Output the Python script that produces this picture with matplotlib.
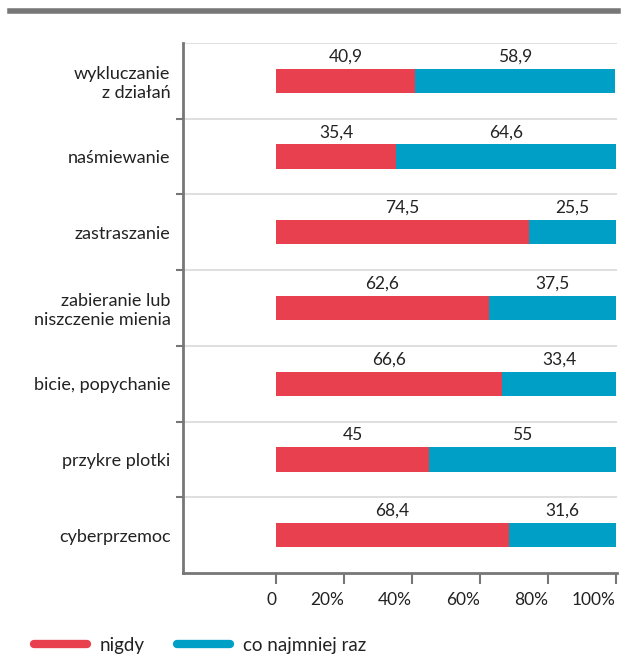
import matplotlib.pyplot as plt
from matplotlib.lines import Line2D

plt.rcParams['font.family'] = ['Lato', 'DejaVu Sans']

# Data
categories = ['wykluczanie\nz działań', 'naśmiewanie', 'zastraszanie',
              'zabieranie lub\nniszczenie mienia', 'bicie, popychanie',
              'przykre plotki', 'cyberprzemoc']
nigdy = [40.9, 35.4, 74.5, 62.6, 66.6, 45, 68.4]
co_najmniej_raz = [58.9, 64.6, 25.5, 37.5, 33.4, 55, 31.6]
nigdy_labels = ['40,9', '35,4', '74,5', '62,6', '66,6', '45', '68,4']
raz_labels = ['58,9', '64,6', '25,5', '37,5', '33,4', '55', '31,6']
xticks = [0, 20, 40, 60, 80, 100]
xtick_labels = ['0', '20%', '40%', '60%', '80%', '100%']

red = '#E8404F'
blue = '#009FC6'
txt = '#222222'

fig = plt.figure(figsize=(6.22, 6.57), dpi=100)
ax = fig.add_axes([183 / 622, 1 - 573 / 657, (617 - 183) / 622, (573 - 43) / 657])

y = list(range(len(categories)))
ax.barh(y, nigdy, height=0.32, color=red)
ax.barh(y, co_najmniej_raz, left=nigdy, height=0.32, color=blue)

for i in y:
    ax.text(nigdy[i] / 2, i - 0.32, nigdy_labels[i], ha='center', va='center',
            fontsize=12.5, color=txt)
    ax.text(nigdy[i] + co_najmniej_raz[i] / 2, i - 0.32, raz_labels[i],
            ha='center', va='center', fontsize=12.5, color=txt)

ax.set_xlim(-27.4, 100.3)
ax.set_ylim(len(categories) - 0.5, -0.5)

# separators between categories
for b in range(len(categories)):
    ax.axhline(b - 0.5, color='#d9d9d9', lw=1.2, zorder=0)

ax.set_yticks([b + 0.5 for b in range(len(categories) - 1)])
ax.set_yticklabels([])
ax.set_yticks(y, minor=True)
ax.set_yticklabels(categories, minor=True, fontsize=13, color=txt)
ax.tick_params(axis='y', which='minor', length=0, pad=9)
ax.tick_params(axis='y', which='major', length=5, width=1.5, color='#777777')

ax.set_xticks(xticks)
ax.set_xticklabels(xtick_labels, fontsize=12.5, color=txt, ha='right')
ax.tick_params(axis='x', length=8, width=1.5, color='#777777', pad=6)

for side in ['top', 'right']:
    ax.spines[side].set_visible(False)
for side in ['left', 'bottom']:
    ax.spines[side].set_color('#777777')
    ax.spines[side].set_linewidth(2)

# top decorative band
fig.add_artist(Line2D([10 / 622, 618 / 622], [1 - 11 / 657, 1 - 11 / 657],
                      color='#777777', lw=4, transform=fig.transFigure))

handles = [Line2D([], [], color=red, lw=6, solid_capstyle='round'),
           Line2D([], [], color=blue, lw=6, solid_capstyle='round')]
fig.legend(handles, ['nigdy', 'co najmniej raz'], loc='center left',
           bbox_to_anchor=(34 / 622, 1 - 645 / 657), ncol=2, frameon=False,
           fontsize=13.5, handlelength=2.8, columnspacing=1.75, handletextpad=0.7,
           borderpad=0, borderaxespad=0, labelcolor=txt)

fig.savefig('out.png', dpi=100)
